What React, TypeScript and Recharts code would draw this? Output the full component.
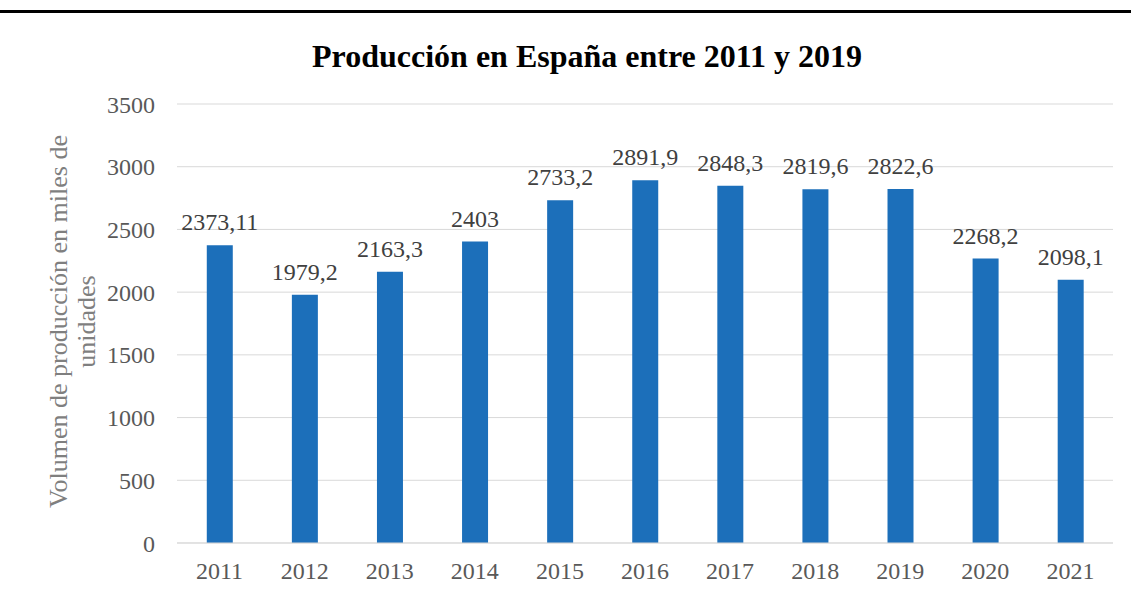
import { BarChart, Bar, XAxis, YAxis, CartesianGrid, LabelList } from 'recharts'

const years = ['2011', '2012', '2013', '2014', '2015', '2016', '2017', '2018', '2019', '2020', '2021']
const production = [2373.11, 1979.2, 2163.3, 2403, 2733.2, 2891.9, 2848.3, 2819.6, 2822.6, 2268.2, 2098.1]
const yTicks = [0, 500, 1000, 1500, 2000, 2500, 3000, 3500]

const data = years.map((y, i) => ({ year: y, value: production[i] }))

const serif = '"Liberation Serif", "Times New Roman", serif'

function AxisTitle({ viewBox }: any) {
  const cy = viewBox.y + viewBox.height / 2 - 2
  const x1 = 67
  const x2 = 95
  return (
    <g fill="#7f7f7f" fontFamily={serif} fontSize={26} textAnchor="middle">
      <text x={x1} y={cy} transform={`rotate(-90 ${x1} ${cy})`}>Volumen de producción en miles de</text>
      <text x={x2} y={cy} transform={`rotate(-90 ${x2} ${cy})`}>unidades</text>
    </g>
  )
}

export default function App() {
  return (
    <div style={{ position: 'absolute', left: 0, top: 0, width: 1131, height: 594, background: '#fff' }}>
      <div style={{ position: 'absolute', left: 0, top: 10, width: 1131, height: 3, background: '#000' }} />
      <div style={{ position: 'absolute', left: 587, top: 39, transform: 'translateX(-50%)', whiteSpace: 'nowrap', fontFamily: serif, fontWeight: 'bold', fontSize: 32, lineHeight: '34px', color: '#000' }}>
        Producción en España entre 2011 y 2019
      </div>
      <BarChart width={1131} height={594} data={data} margin={{ top: 104, right: 18, bottom: 0, left: 0 }} barCategoryGap="35%">
        <CartesianGrid vertical={false} stroke="#d9d9d9" />
        <XAxis dataKey="year" height={51} tickLine={false} tickSize={0} tickMargin={19} axisLine={{ stroke: '#d9d9d9' }}
          tick={{ fill: '#595959', fontSize: 24, fontFamily: serif }} />
        <YAxis width={177} domain={[0, 3500]} ticks={yTicks} tickLine={false} axisLine={false} tickSize={0} tickMargin={22}
          tick={{ fill: '#595959', fontSize: 24, fontFamily: serif }} label={<AxisTitle />} />
        <Bar dataKey="value" fill="#1c6fba" isAnimationActive={false}>
          <LabelList dataKey="value" position="top" offset={15} fill="#404040" fontSize={24} fontFamily={serif}
            formatter={(v: any) => String(v).replace('.', ',')} />
        </Bar>
      </BarChart>
    </div>
  )
}
